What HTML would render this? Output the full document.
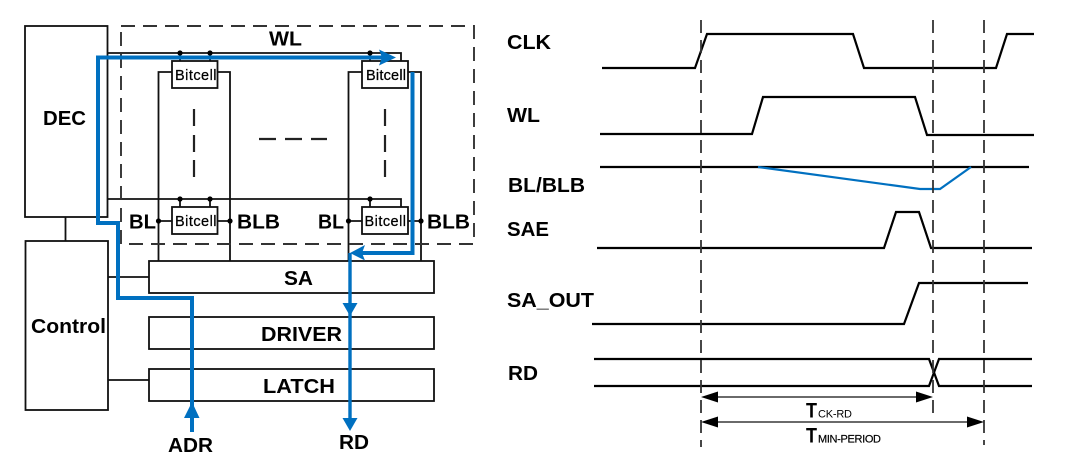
<!DOCTYPE html>
<html>
<head>
<meta charset="utf-8">
<style>
html,body{margin:0;padding:0;background:#fff;}
svg{display:block;filter:blur(0.3px);}
text{font-family:"Liberation Sans",sans-serif;fill:#000;}
.b{font-weight:bold;font-size:20.5px;}
.c{font-size:14.5px;stroke:#000;stroke-width:0.25px;}
</style>
</head>
<body>
<svg width="1080" height="475" viewBox="0 0 1080 475" xmlns="http://www.w3.org/2000/svg">
<rect width="1080" height="475" fill="#fff"/>

<!-- blocks -->
<g fill="#fff" stroke="#111" stroke-width="1.800">
<rect x="25" y="26" width="82.500" height="191"/>
<rect x="25.500" y="241" width="82.500" height="169"/>
<rect x="149" y="261" width="285" height="32"/>
<rect x="149" y="317" width="285" height="32"/>
<rect x="149" y="369" width="285" height="32"/>
</g>

<g fill="none" stroke="#111" stroke-width="1.800">
<path d="M65.500 217V241M108 277H149M108 380H149"/>
<path d="M107 53H401V61M107 199H401V207"/>
<path d="M180 53V61M210 53V61M370 53V61M180 199V207M210 199V207M370 199V207"/>
<path d="M172 72H158.500V261M217 72H230V261"/>
<path d="M362 72H348.500V261M408 72H421V261"/>
<path d="M158.500 221H172M217 221H230M348.500 221H362M408 221H421"/>
</g>
<g fill="#000">
<circle cx="180" cy="53" r="2.600"/><circle cx="210" cy="53" r="2.600"/><circle cx="370" cy="53" r="2.600"/>
<circle cx="180" cy="199" r="2.600"/><circle cx="210" cy="199" r="2.600"/><circle cx="370" cy="199" r="2.600"/>
<circle cx="158.500" cy="221" r="2.600"/><circle cx="230" cy="221" r="2.600"/><circle cx="348.500" cy="221" r="2.600"/><circle cx="421" cy="221" r="2.600"/>
</g>

<!-- dashed array boundary -->
<rect x="121" y="26" width="353" height="218" fill="none" stroke="#333" stroke-width="1.900" stroke-dasharray="14 8"/>

<!-- bitcells -->
<g fill="#fff" stroke="#111" stroke-width="1.800">
<rect x="172" y="61" width="45.500" height="27"/>
<rect x="172" y="207" width="45.500" height="27"/>
<rect x="362" y="61" width="46" height="27"/>
<rect x="362" y="207" width="46" height="27"/>
</g>
<text x="175" y="80" class="c" textLength="41.500">Bitcell</text>
<text x="175" y="226" class="c" textLength="41.500">Bitcell</text>
<text x="366" y="80" class="c" textLength="40">Bitcell</text>
<text x="364.500" y="226" class="c" textLength="41.500">Bitcell</text>

<!-- ellipsis dashes -->
<g fill="none" stroke="#222" stroke-width="2.200">
<path d="M194 109V126M194 135V152M194 160V177"/>
<path d="M385 109V126M385 135V152M385 160V177"/>
<path d="M259 139H276M285 139H302M311 139H327"/>
</g>

<!-- blue paths -->
<g fill="none" stroke="#0070c0" stroke-width="4">
<path d="M192 420V298H118V223H98V57.500H385"/>
<path d="M412.500 72V253H355"/>
<path d="M192 416V432"/>
</g>
<path d="M350 253V420" fill="none" stroke="#0070c0" stroke-width="3.400"/>
<g fill="#0070c0">
<path d="M396 57.500L379 49.500L382 57.500L379 65.500Z"/>
<path d="M350 253L365 245L362 253L365 260.500Z"/>
<path d="M350 316L342.500 303H357.500Z"/>
<path d="M350 431L342.500 418H357.500Z"/>
<path d="M192 402L184 418H199.500Z"/>
</g>

<!-- left labels -->
<g class="b">
<text x="43" y="125" textLength="43" lengthAdjust="spacingAndGlyphs">DEC</text>
<text x="31" y="333" textLength="75" lengthAdjust="spacingAndGlyphs">Control</text>
<text x="269" y="45.500" textLength="33" lengthAdjust="spacingAndGlyphs">WL</text>
<text x="129" y="228.500" textLength="27" lengthAdjust="spacingAndGlyphs">BL</text>
<text x="237" y="228.500" textLength="43" lengthAdjust="spacingAndGlyphs">BLB</text>
<text x="318" y="228.500" textLength="26" lengthAdjust="spacingAndGlyphs">BL</text>
<text x="427" y="228.500" textLength="43" lengthAdjust="spacingAndGlyphs">BLB</text>
<text x="284" y="285" textLength="29" lengthAdjust="spacingAndGlyphs">SA</text>
<text x="261" y="341" textLength="81" lengthAdjust="spacingAndGlyphs">DRIVER</text>
<text x="263" y="393" textLength="72" lengthAdjust="spacingAndGlyphs">LATCH</text>
<text x="168" y="452" textLength="45" lengthAdjust="spacingAndGlyphs">ADR</text>
<text x="339" y="449" textLength="30" lengthAdjust="spacingAndGlyphs">RD</text>
</g>

<!-- timing labels -->
<g class="b">
<text x="507" y="49" textLength="44" lengthAdjust="spacingAndGlyphs">CLK</text>
<text x="507" y="122" textLength="33" lengthAdjust="spacingAndGlyphs">WL</text>
<text x="508" y="192" textLength="77" lengthAdjust="spacingAndGlyphs">BL/BLB</text>
<text x="507" y="236" textLength="42" lengthAdjust="spacingAndGlyphs">SAE</text>
<text x="507" y="307" textLength="87" lengthAdjust="spacingAndGlyphs">SA_OUT</text>
<text x="508" y="380" textLength="30" lengthAdjust="spacingAndGlyphs">RD</text>
</g>

<!-- waveforms -->
<g fill="none" stroke="#000" stroke-width="2.200">
<path d="M602 68H695L707 34H853L864 68H996L1007 34H1034"/>
<path d="M600 134H752L763 97H915L927 135H1034"/>
<path d="M600 167H1029"/>
<path d="M597 248H884L896 212H919L931 248H1032"/>
<path d="M592 324H904L919 283H1028"/>
<path d="M594 359H929L939 386H1032"/>
<path d="M594 386H929L939 359H1032"/>
</g>
<path d="M758 167L920 189H940L971 167" fill="none" stroke="#0070c0" stroke-width="2.200"/>

<!-- timing dashed guides -->
<g fill="none" stroke="#333" stroke-width="1.800" stroke-dasharray="13 7">
<path d="M701 20V447M933 20V415M984 20V445"/>
</g>

<!-- timing dimension arrows -->
<g fill="none" stroke="#111" stroke-width="1.300">
<path d="M712 397H922M712 422H973"/>
</g>
<g fill="#000">
<path d="M701 397L718 391.500V402.500Z"/>
<path d="M933 397L916 391.500V402.500Z"/>
<path d="M701 422L718 416.500V427.500Z"/>
<path d="M984 422L967 416.500V427.500Z"/>
</g>
<text x="806" y="417.500" style="font-size:21px;font-weight:bold;" textLength="11" lengthAdjust="spacingAndGlyphs">T</text>
<text x="818" y="417.500" style="font-size:11px;" textLength="34">CK-RD</text>
<text x="806" y="442.500" style="font-size:21px;font-weight:bold;" textLength="11" lengthAdjust="spacingAndGlyphs">T</text>
<text x="818" y="442.500" style="font-size:11px;stroke:#000;stroke-width:0.2px;" textLength="63">MIN-PERIOD</text>
</svg>
</body>
</html>
